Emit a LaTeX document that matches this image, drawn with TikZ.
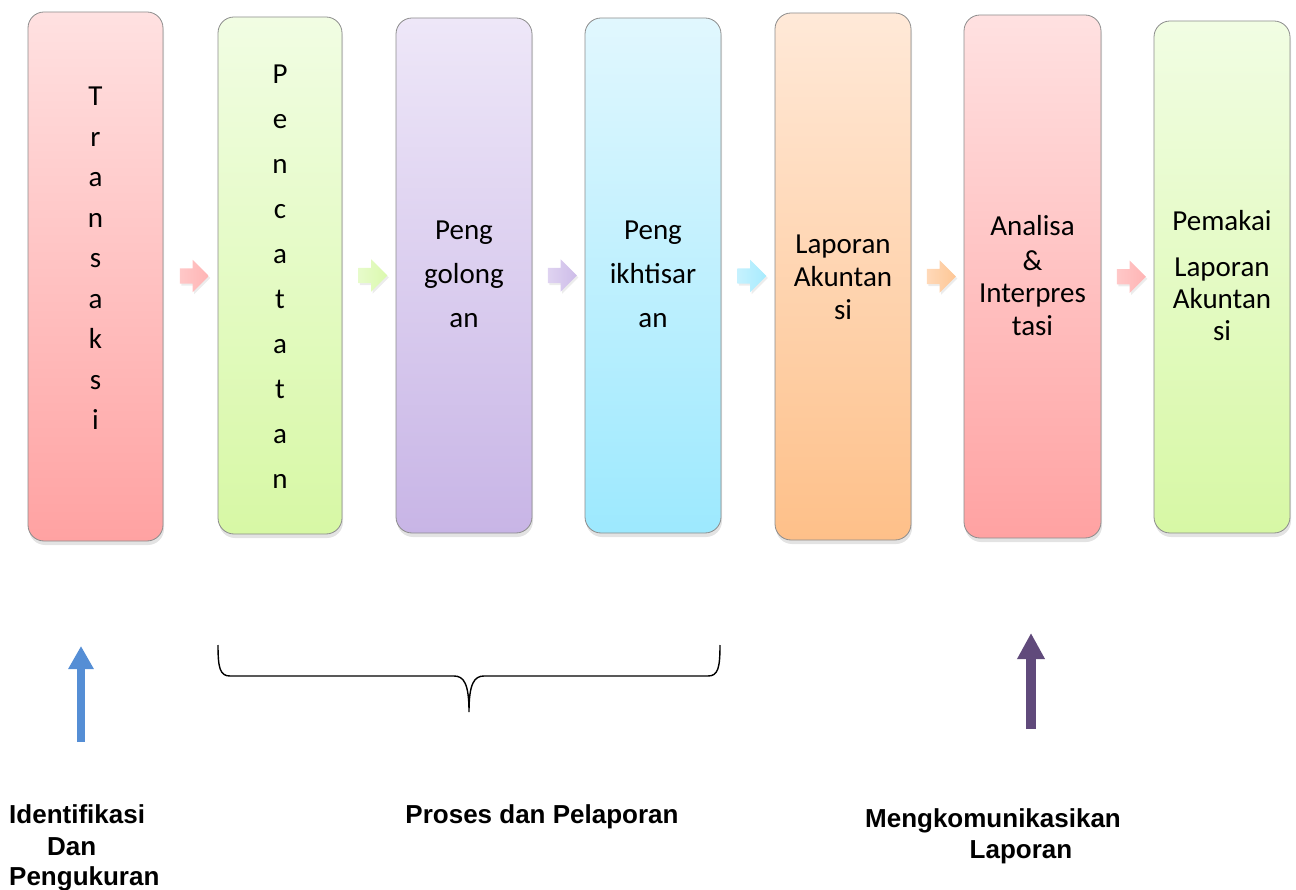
\documentclass[tikz,border=0pt]{standalone}
\usepackage{fontspec}
\setmainfont{Carlito}
\newfontfamily\labelfont{Liberation Sans}
\usetikzlibrary{shapes.arrows,shadows,arrows.meta,calc}

% stage colours (top / bottom of each gradient)
\definecolor{pinkTop}{HTML}{FFE1E1}\definecolor{pinkBot}{HTML}{FFA2A2}
\definecolor{greenTop}{HTML}{F1FDE3}\definecolor{greenBot}{HTML}{D7F8A5}
\definecolor{lilacTop}{HTML}{EEE7F8}\definecolor{lilacBot}{HTML}{C8B5E6}
\definecolor{cyanTop}{HTML}{E1F7FE}\definecolor{cyanBot}{HTML}{9DE9FE}
\definecolor{peachTop}{HTML}{FFE9D8}\definecolor{peachBot}{HTML}{FEC089}
\definecolor{upBlue}{HTML}{558ED5}
\definecolor{upPurple}{HTML}{604A7B}

\begin{document}
\begin{tikzpicture}[x=1pt,y=-1pt,
  stage/.style={draw=black!45, line width=0.8pt, rounded corners=16pt,
    inner sep=0pt, minimum width=#1,
    drop shadow={shadow xshift=1pt, shadow yshift=-4pt, opacity=0.22}},
  boxtext/.style={font=\fontsize{29}{35}\selectfont, inner sep=0pt, anchor=base},
  flow/.style={single arrow, single arrow head extend=8.5pt,
    minimum height=29pt, inner xsep=0pt, inner ysep=7.5pt, draw=none,
    drop shadow={shadow xshift=1.5pt, shadow yshift=-2pt, opacity=0.15}},
  caption/.style={font=\labelfont\bfseries\fontsize{26}{31}\selectfont, inner sep=0pt},
]
\useasboundingbox (0,0) rectangle (1296,890);

% ---- the seven stages ----
\node[stage=135pt, minimum height=529pt, top color=pinkTop, bottom color=pinkBot]   (b1) at (95.5,276.5) {};
\node[stage=124pt, minimum height=517pt, top color=greenTop, bottom color=greenBot] (b2) at (280,275.5) {};
\node[stage=136pt, minimum height=515pt, top color=lilacTop, bottom color=lilacBot] (b3) at (464,275.5) {};
\node[stage=136pt, minimum height=515pt, top color=cyanTop, bottom color=cyanBot]   (b4) at (653,275.5) {};
\node[stage=136pt, minimum height=527pt, top color=peachTop, bottom color=peachBot] (b5) at (843,276.5) {};
\node[stage=137pt, minimum height=523pt, top color=pinkTop, bottom color=pinkBot]   (b6) at (1032.5,276.5) {};
\node[stage=136pt, minimum height=512pt, top color=greenTop, bottom color=greenBot] (b7) at (1222,277) {};

% ---- stage texts ----
\foreach \ch [count=\i] in {T,r,a,n,s,a,k,s,i}
  \node[boxtext] (tx\i) at (95.5,{106+40.5*(\i-1)}) {\ch};
\foreach \ch [count=\i] in {P,e,n,c,a,t,a,t,a,n}
  \node[boxtext] (pc\i) at (280,{83.5+45*(\i-1)}) {\ch};

\node[boxtext] (g1) at (464,240) {Peng};
\node[boxtext] (g2) at (464,284) {golong};
\node[boxtext] (g3) at (464,328) {an};

\node[boxtext] (k1) at (653,240) {Peng};
\node[boxtext] (k2) at (653,284) {ikhtisar};
\node[boxtext] (k3) at (653,328) {an};

\node[boxtext] (l1) at (843,253.5) {Laporan};
\node[boxtext] (l2) at (843,287) {Akuntan};
\node[boxtext] (l3) at (843,320) {si};

\node[boxtext] (n1) at (1032.5,236) {Analisa};
\node[boxtext] (n2) at (1032.5,270.5) {\&};
\node[boxtext] (n3) at (1032.5,303) {Interpres};
\node[boxtext] (n4) at (1032.5,335.5) {tasi};

\node[boxtext] (u1) at (1222,230.5) {Pemakai};
\node[boxtext] (u2) at (1222,276.5) {Laporan};
\node[boxtext] (u3) at (1222,309) {Akuntan};
\node[boxtext] (u4) at (1222,341) {si};

% ---- small flow arrows between the stages ----
\node[flow, left color=pinkTop!60!pinkBot, right color=pinkBot!80!white]   (a1) at ($(b1.east)!0.5!(b2.west)$) {};
\node[flow, left color=greenTop!60!greenBot, right color=greenBot!90!white] (a2) at ($(b2.east)!0.5!(b3.west)$) {};
\node[flow, left color=lilacTop!60!lilacBot, right color=lilacBot!90!white] (a3) at ($(b3.east)!0.5!(b4.west)$) {};
\node[flow, left color=cyanTop!60!cyanBot, right color=cyanBot!90!white]   (a4) at ($(b4.east)!0.5!(b5.west)$) {};
\node[flow, left color=peachTop!60!peachBot, right color=peachBot!90!white] (a5) at ($(b5.east)!0.5!(b6.west)$) {};
\node[flow, left color=pinkTop!60!pinkBot, right color=pinkBot!80!white]   (a6) at ($(b6.east)!0.5!(b7.west)$) {};

% ---- upward arrows ----
\coordinate (ia) at (81,742);
\coordinate (ib) at (81,646);
\draw[line width=8pt, draw=upBlue, -{Triangle[length=23pt,width=24pt]}] (ia) -- (ib);
\coordinate (ma) at (1031,729);
\coordinate (mb) at (1031,633);
\draw[line width=10pt, draw=upPurple, -{Triangle[length=26pt,width=26pt]}] (ma) -- (mb);

% ---- brace under the processing stages ----
\coordinate (bl) at (218,645);
\coordinate (br) at (720,645);
\coordinate (bm) at (469,712);
\draw[line width=1.4pt]
  (bl) .. controls (218,668) and (220,676) .. (230,676)
  -- (454,676) .. controls (464,676) and (469,684) .. (bm)
  .. controls (469,684) and (474,676) .. (484,676)
  -- (708,676) .. controls (718,676) and (720,668) .. (br);

% ---- captions ----
\node[caption, anchor=base west] (c1a) at (9,823) {Identifikasi};
\node[caption, anchor=base west] (c1b) at (47,855) {Dan};
\node[caption, anchor=base west] (c1c) at (9,885) {Pengukuran};
\node[caption, anchor=base] (c2) at (542,823) {Proses dan Pelaporan};
\node[caption, anchor=base] (c3a) at (993,827) {Mengkomunikasikan};
\node[caption, anchor=base] (c3b) at (1021,858) {Laporan};
\end{tikzpicture}
\end{document}
